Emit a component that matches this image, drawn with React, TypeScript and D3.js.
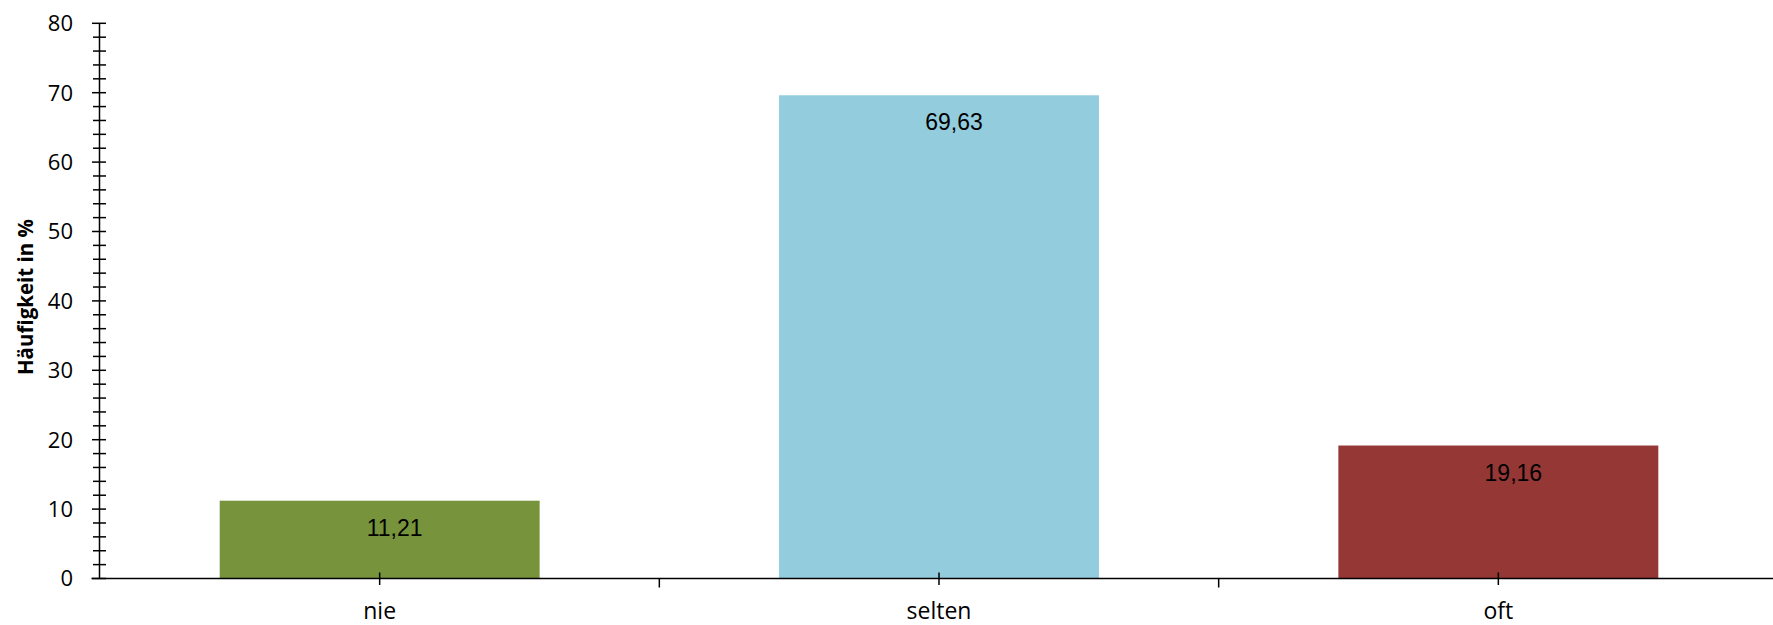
import React from "react";
import * as d3 from "d3";

const categories = ["nie", "selten", "oft"];
const values = [11.21, 69.63, 19.16];
const valueLabels = ["11,21", "69,63", "19,16"];
const colors = ["#77933C", "#93CDDD", "#953735"];
const majorTicks = [0, 10, 20, 30, 40, 50, 60, 70, 80];
const minorTicks = d3.range(0, 81, 2);
const yTitle = "Häufigkeit in %";

const W = 1773;
const H = 625;

export default function App() {
  const x = d3
    .scaleBand<string>()
    .domain(categories)
    .range([100, 1778])
    .paddingInner(0.428)
    .paddingOuter(0.214);
  const xb = d3.scaleBand<string>().domain(categories).range([100, 1778]).padding(0);
  const y = d3.scaleLinear().domain([0, 80]).range([578.5, 23.3]);
  const axisX = 99.5;
  const axisY = y(0);

  return (
    <svg
      width={W}
      height={H}
      style={{ position: "absolute", left: 0, top: 0, background: "#fff" }}
    >
      {categories.map((c, i) => (
        <rect
          key={c}
          x={x(c)}
          y={y(values[i])}
          width={x.bandwidth()}
          height={axisY - y(values[i])}
          fill={colors[i]}
        />
      ))}
      {categories.map((c, i) => (
        <text
          key={"l" + c}
          x={(x(c) as number) + x.bandwidth() / 2 + 15}
          y={y(values[i]) + 35}
          textAnchor="middle"
          fontFamily="'Liberation Sans', Arial, sans-serif"
          fontSize={23}
          fill="#000"
        >
          {valueLabels[i]}
        </text>
      ))}
      {/* y axis */}
      <line x1={axisX} x2={axisX} y1={y(80)} y2={axisY} stroke="#000" strokeWidth={1.5} />
      {minorTicks.map((t) => (
        <line
          key={"m" + t}
          x1={axisX - (t % 10 === 0 ? 7.5 : 6.5)}
          x2={axisX + 6.5}
          y1={y(t)}
          y2={y(t)}
          stroke="#000"
          strokeWidth={1.5}
        />
      ))}
      {majorTicks.map((t) => (
        <text
          key={"t" + t}
          x={73}
          y={y(t)}
          dy="0.36em"
          textAnchor="end"
          fontFamily="'Open Sans', sans-serif"
          fontSize={22}
          fill="#000"
        >
          {t}
        </text>
      ))}
      {/* x axis */}
      <line x1={axisX - 8} x2={W} y1={axisY} y2={axisY} stroke="#000" strokeWidth={1.5} />
      {categories.map((c) => (
        <line
          key={"ct" + c}
          x1={(xb(c) as number) + xb.bandwidth() / 2}
          x2={(xb(c) as number) + xb.bandwidth() / 2}
          y1={axisY - 6}
          y2={axisY + 6.5}
          stroke="#000"
          strokeWidth={1.5}
        />
      ))}
      {categories.slice(1).map((c) => (
        <line
          key={"bt" + c}
          x1={xb(c)}
          x2={xb(c)}
          y1={axisY}
          y2={axisY + 9}
          stroke="#000"
          strokeWidth={1.5}
        />
      ))}
      {categories.map((c) => (
        <text
          key={"cl" + c}
          x={(xb(c) as number) + xb.bandwidth() / 2}
          y={619}
          textAnchor="middle"
          fontFamily="'Open Sans', sans-serif"
          fontSize={23}
          fill="#000"
        >
          {c}
        </text>
      ))}
      <text
        transform={`translate(33, 297) rotate(-90)`}
        textAnchor="middle"
        fontFamily="'Open Sans', sans-serif"
        fontWeight="bold"
        fontSize={20.5}
        fill="#000"
      >
        {yTitle}
      </text>
    </svg>
  );
}
